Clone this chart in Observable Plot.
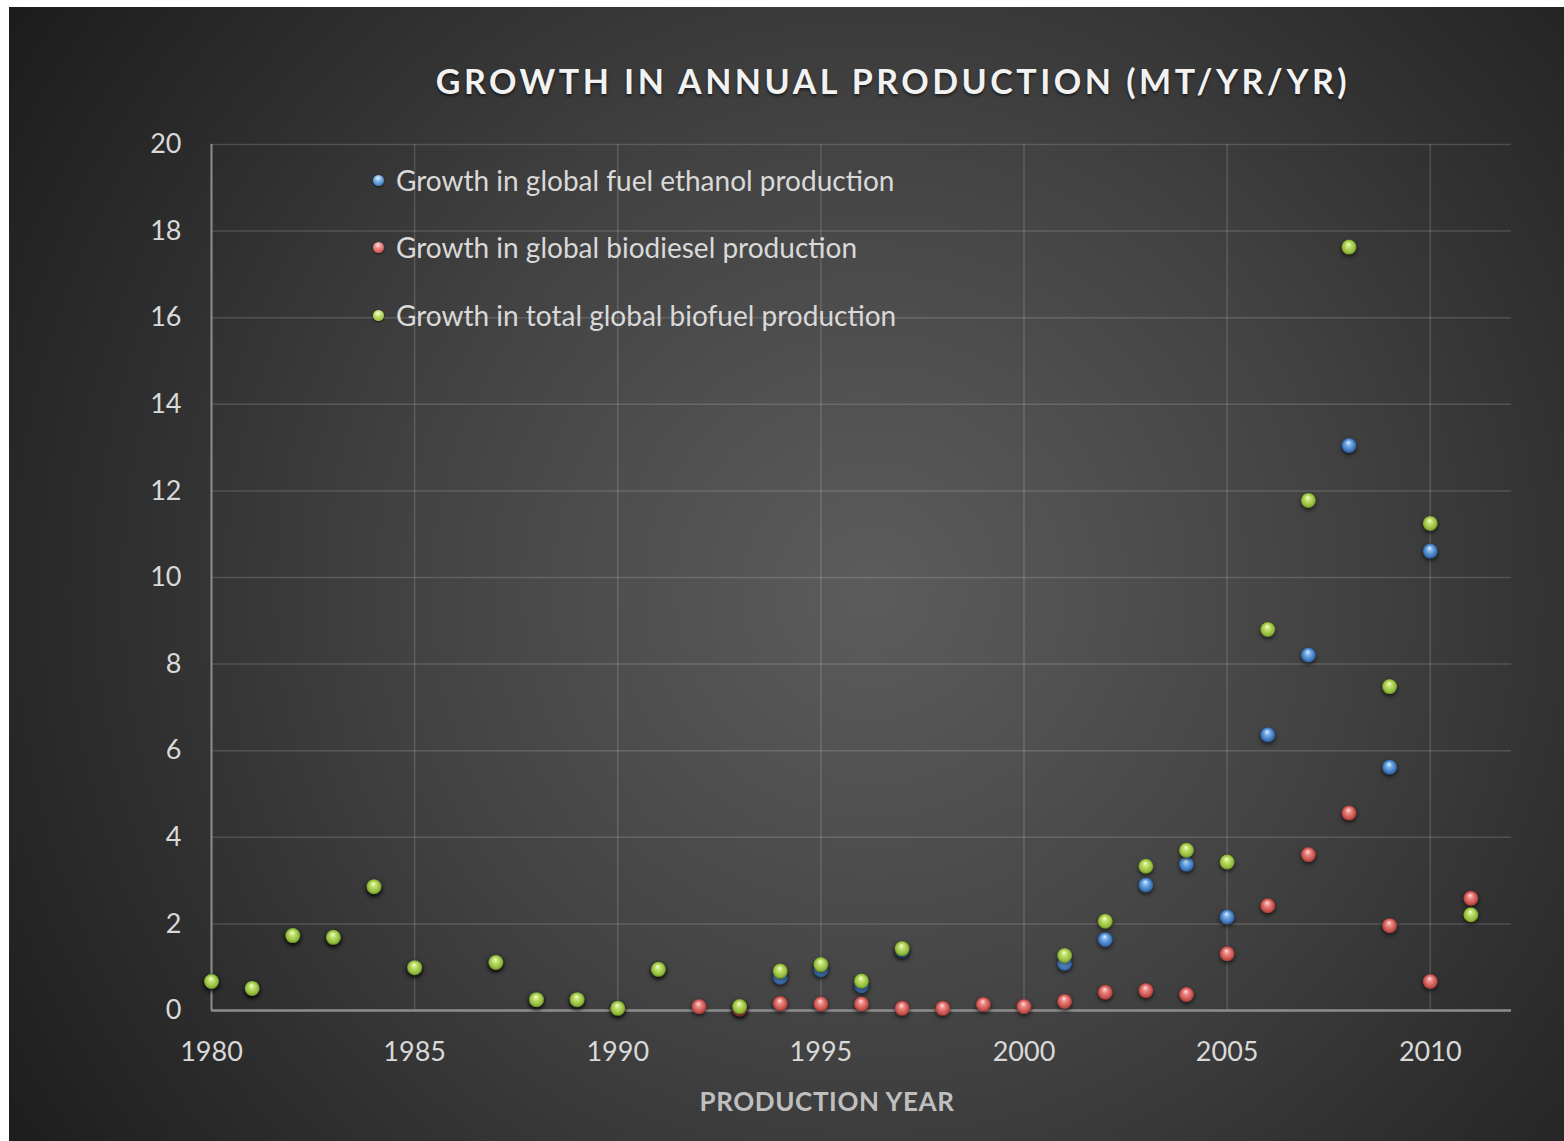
<!DOCTYPE html>
<html>
<head>
<meta charset="utf-8">
<script src="https://cdn.jsdelivr.net/npm/d3@7"></script>
<script src="https://cdn.jsdelivr.net/npm/@observablehq/plot@0.6"></script>
<style>
  html, body { margin: 0; padding: 0; background: #fff; }
  #panel {
    position: absolute; left: 9px; top: 7px; width: 1555px; height: 1134px; overflow: hidden;
    background: radial-gradient(circle 1040px at 861px 583px, #5c5c5c 0%, #515151 20%, #424242 45%, #303030 70%, #1c1c1c 100%);
    font-family: Lato, "Open Sans", sans-serif;
  }
  #panel svg { position: absolute; left: 0; top: 0; }
  #title {
    position: absolute; left: 884px; top: 57px; transform: translateX(-50%);
    white-space: nowrap; font-size: 34px; line-height: 34px; font-weight: 700;
    letter-spacing: 3.5px; color: #f2f2f2; text-shadow: 0 2px 3px rgba(0,0,0,0.55);
  }
  #xlabel {
    position: absolute; left: 818px; top: 1081px; transform: translateX(-50%);
    white-space: nowrap; font-size: 26px; line-height: 26px; font-weight: 700;
    letter-spacing: 0.6px; color: #bfbfbf;
  }
  #legend { position: absolute; left: 364px; top: 0; }
  .row { position: absolute; left: 0; white-space: nowrap; height: 34px; display: flex; align-items: center; }
  .row .key { width: 11px; height: 11px; border-radius: 50%; margin-right: 12px; box-shadow: 0 1px 2px rgba(0,0,0,0.6); }
  .row span { font-size: 28px; color: #d9d9d9; }
</style>
</head>
<body>
<svg width="0" height="0" style="position:absolute">
  <defs>
    <radialGradient id="ball-blue" cx="0.5" cy="0.5" r="0.5" fx="0.45" fy="0.28">
      <stop offset="0" stop-color="#e4f2ff"/>
      <stop offset="0.35" stop-color="#79b1ea"/>
      <stop offset="0.8" stop-color="#3f78bd"/>
      <stop offset="1" stop-color="#2b5990"/>
    </radialGradient>
    <radialGradient id="ball-red" cx="0.5" cy="0.5" r="0.5" fx="0.45" fy="0.28">
      <stop offset="0" stop-color="#ffe2e0"/>
      <stop offset="0.35" stop-color="#ec8a86"/>
      <stop offset="0.8" stop-color="#c9514d"/>
      <stop offset="1" stop-color="#993a37"/>
    </radialGradient>
    <radialGradient id="ball-green" cx="0.5" cy="0.5" r="0.5" fx="0.45" fy="0.28">
      <stop offset="0" stop-color="#f6ffd8"/>
      <stop offset="0.35" stop-color="#c3e06e"/>
      <stop offset="0.8" stop-color="#94bd3c"/>
      <stop offset="1" stop-color="#6c8e27"/>
    </radialGradient>
  </defs>
</svg>
<div id="panel">
  <div id="title">GROWTH IN ANNUAL PRODUCTION (MT/YR/YR)</div>
  <div id="legend"></div>
  <div id="xlabel">PRODUCTION YEAR</div>
</div>
<script>
// Production years and year-on-year growth (Mt/yr/yr); null = no value plotted
const years = [1980, 1981, 1982, 1983, 1984, 1985, 1986, 1987, 1988, 1989,
               1990, 1991, 1992, 1993, 1994, 1995, 1996, 1997, 1998, 1999,
               2000, 2001, 2002, 2003, 2004, 2005, 2006, 2007, 2008, 2009,
               2010, 2011];
const ethanolGrowth = [0.67, 0.51, 1.73, 1.69, 2.86, 0.99, null, 1.11, 0.25, 0.25,
                       0.05, 0.95, null, 0.06, 0.77, 0.94, 0.57, 1.38, null, null,
                       null, 1.09, 1.64, 2.90, 3.38, 2.16, 6.37, 8.21, 13.05, 5.62,
                       10.61, null];
const biodieselGrowth = [null, null, null, null, null, null, null, null, null, null,
                         null, null, 0.09, 0.03, 0.16, 0.15, 0.15, 0.05, 0.05, 0.14,
                         0.09, 0.21, 0.42, 0.46, 0.37, 1.31, 2.42, 3.60, 4.56, 1.96,
                         0.67, 2.59];
const totalGrowth = [0.67, 0.51, 1.73, 1.69, 2.86, 0.99, null, 1.11, 0.25, 0.25,
                     0.05, 0.95, null, 0.09, 0.91, 1.06, 0.68, 1.43, null, null,
                     null, 1.27, 2.06, 3.33, 3.70, 3.43, 8.80, 11.78, 17.63, 7.48,
                     11.25, 2.21];

const seriesNames = [
  "Growth in global fuel ethanol production",
  "Growth in global biodiesel production",
  "Growth in total global biofuel production"
];
const seriesFills = ["url(#ball-blue)", "url(#ball-red)", "url(#ball-green)"];
const legendKeys = [
  "radial-gradient(circle at 45% 30%, #e4f2ff 0%, #79b1ea 35%, #3f78bd 80%, #2b5990 100%)",
  "radial-gradient(circle at 45% 30%, #ffe2e0 0%, #ec8a86 35%, #c9514d 80%, #993a37 100%)",
  "radial-gradient(circle at 45% 30%, #f6ffd8 0%, #c3e06e 35%, #94bd3c 80%, #6c8e27 100%)"
];

const xTicks = [1980, 1985, 1990, 1995, 2000, 2005, 2010];
const yTicks = [0, 2, 4, 6, 8, 10, 12, 14, 16, 18, 20];

const toPoints = values => years
  .map((year, i) => ({year, value: values[i]}))
  .filter(d => d.value != null);

const seriesValues = [ethanolGrowth, biodieselGrowth, totalGrowth];

const chart = Plot.plot({
  width: 1555,
  height: 1134,
  marginLeft: 202,
  marginRight: 53,
  marginTop: 137,
  marginBottom: 131,
  style: {background: "transparent", color: "#d9d9d9", fontFamily: "Lato, 'Open Sans', sans-serif", fontSize: "27px", overflow: "visible"},
  x: {domain: [1980, 2012], ticks: xTicks, tickFormat: d => String(d), tickSize: 0, tickPadding: 31, label: null},
  y: {domain: [0, 20], ticks: yTicks, tickSize: 0, tickPadding: 30, label: null},
  marks: [
    Plot.ruleY(yTicks, {stroke: "#ffffff", strokeOpacity: 0.15, strokeWidth: 1.5}),
    Plot.ruleX(xTicks, {stroke: "#ffffff", strokeOpacity: 0.15, strokeWidth: 1.5}),
    Plot.ruleX([1980], {stroke: "#8c8c8c", strokeWidth: 2}),
    Plot.ruleY([0], {stroke: "#8c8c8c", strokeWidth: 2.5}),
    ...seriesValues.map((vals, k) =>
      Plot.dot(toPoints(vals), {x: "year", y: "value", r: 7.5, fill: seriesFills[k], stroke: "none"})
    )
  ]
});

// soft drop shadow under the glossy markers
chart.querySelectorAll('g[aria-label="dot"]').forEach(g => {
  g.style.filter = "drop-shadow(0px 2px 2px rgba(0,0,0,0.65))";
});

const panel = document.getElementById("panel");
panel.insertBefore(chart, panel.firstChild);

// legend drawn inside the plotting area
const legend = document.getElementById("legend");
const rowCenters = [173, 240, 308];
seriesNames.forEach((name, k) => {
  const row = document.createElement("div");
  row.className = "row";
  row.style.top = (rowCenters[k] - 17) + "px";
  const key = document.createElement("div");
  key.className = "key";
  key.style.background = legendKeys[k];
  const label = document.createElement("span");
  label.textContent = name;
  row.appendChild(key);
  row.appendChild(label);
  legend.appendChild(row);
});
</script>
</body>
</html>
